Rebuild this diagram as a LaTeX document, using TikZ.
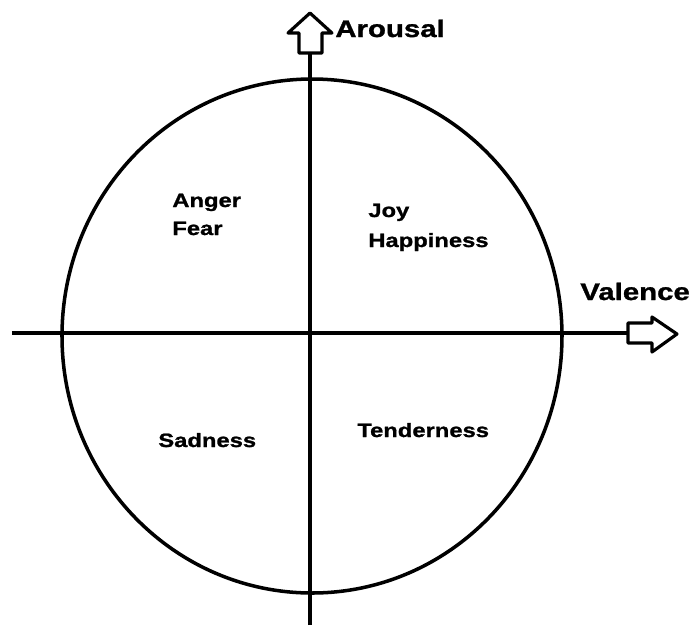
\documentclass[tikz,border=0pt]{standalone}
\usepackage{fontspec}
\setmainfont{Liberation Sans}
\newfontfamily\widesans{Liberation Sans}[BoldFeatures={FakeStretch=1.23,FakeBold=1.2}]
\usepackage{tikz}
\usetikzlibrary{calc,positioning}

\tikzset{
  emolabel/.style={anchor=base west,inner sep=0,font=\widesans\fontsize{11}{13}\selectfont\bfseries},
  axislabel/.style={anchor=base west,inner sep=0,font=\widesans\fontsize{13.6}{16}\selectfont\bfseries},
  axisline/.style={line width=2.2pt},
  hollowarrow/.style={line width=1.8pt,line join=round,fill=white}
}

\begin{document}
\begin{tikzpicture}[x=0.02cm,y=-0.02cm]
  \useasboundingbox (0,0) rectangle (698,627);

  % Axis end points
  \coordinate (vbot) at (310,625);
  \coordinate (vtop) at (310,53);
  \coordinate (hleft) at (12,333);
  \coordinate (hright) at (628,333);

  % The circle
  \draw[line width=2pt] (312,336) ellipse [x radius=250,y radius=257];

  % Axes
  \draw[axisline] (vbot) -- (vtop);
  \draw[axisline] (hleft) -- (hright);

  % Hollow block arrows
  \draw[hollowarrow] (299,53) -- (299,33) -- (288,33) -- (310,13)
  -- (332,33) -- (322,33) -- (322,53) -- cycle;
  \draw[hollowarrow] (628,323) -- (652,323) -- (652,317) -- (677,334)
  -- (652,352) -- (652,343) -- (628,343) -- cycle;

  % Axis labels
  \node[axislabel] (arousal) at (335,37) {Arousal};
  \node[axislabel] (valence) at (580,300) {Valence};

  % Label the quadrants
  \node[emolabel] (anger) at (172,207) {Anger};
  \node[emolabel] (fear) at (172,235) {Fear};
  \node[emolabel] (joy) at (368,217) {Joy};
  \node[emolabel] (happy) at (368,247) {Happiness};
  \node[emolabel] (sad) at (158,447) {Sadness};
  \node[emolabel] (tender) at (357,437) {Tenderness};
\end{tikzpicture}
\end{document}
